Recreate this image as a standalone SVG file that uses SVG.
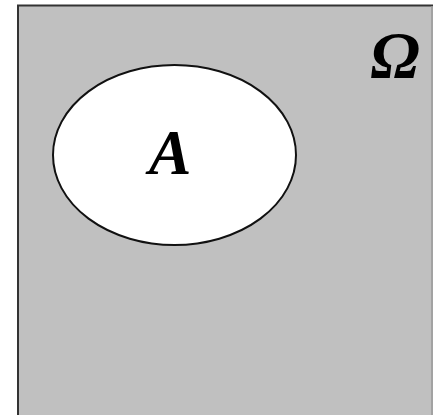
<svg xmlns="http://www.w3.org/2000/svg" width="433" height="415" viewBox="0 0 433 415">
<style>
.lbl{font-family:"Liberation Serif","Times New Roman",serif;font-weight:bold;font-style:italic;fill:#000}
</style>
<rect width="433" height="415" fill="#fff"/>
<g id="omega">
<rect x="18" y="5.5" width="420" height="420" fill="#c0c0c0" stroke="#333" stroke-width="2"/>
<line x1="432" y1="6" x2="432" y2="415" stroke="#999" stroke-width="1.5"/>
<text class="lbl" x="395" y="77" font-size="66" text-anchor="middle">Ω</text>
</g>
<g id="A">
<ellipse cx="174.5" cy="155" rx="121.5" ry="90" fill="#fff" stroke="#111" stroke-width="2"/>
<text class="lbl" x="170" y="174" font-size="64" text-anchor="middle">A</text>
</g>
</svg>
